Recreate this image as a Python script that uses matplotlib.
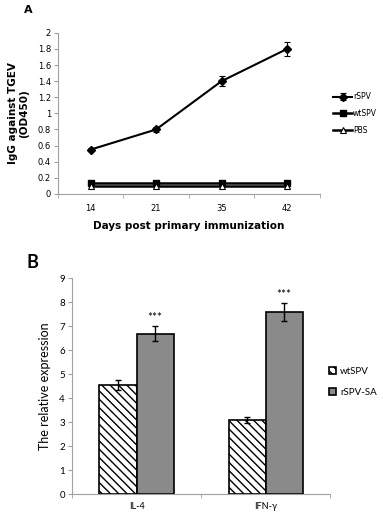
import matplotlib.pyplot as plt
import numpy as np

plt.rcParams['font.family'] = ['Lato', 'DejaVu Sans']
plt.rcParams['hatch.linewidth'] = 1.0

# panel A data
days = ['14', '21', '35', '42']
rspv = [0.55, 0.80, 1.40, 1.80]
rspv_err = [0.02, 0.03, 0.06, 0.09]
wtspv = [0.14, 0.14, 0.14, 0.14]
pbs = [0.10, 0.10, 0.10, 0.10]

# panel B data
genes = ['IL-4', 'IFN-γ']
wt_expr = [4.55, 3.10]
wt_err = [0.22, 0.12]
sa_expr = [6.68, 7.60]
sa_err = [0.32, 0.37]
stars = ['***', '***']

fig = plt.figure(figsize=(3.83, 5.13), dpi=100)
grey = '#a0a0a0'
dv = ['DejaVu Sans']

# ---- panel A ----
ax = fig.add_axes([0.151, 0.622, 0.684, 0.314])
x = np.arange(len(days))
h1 = ax.errorbar(x, rspv, yerr=rspv_err, color='black', lw=1.5, marker='D', ms=4,
                 capsize=2, elinewidth=0.8, capthick=0.8, label='rSPV')
h2, = ax.plot(x, wtspv, color='black', lw=1.8, marker='s', ms=5, label='wtSPV')
h3, = ax.plot(x, pbs, color='black', lw=1.8, marker='^', ms=5, mfc='white',
              mew=0.8, label='PBS')
ax.set_xlim(-0.5, 3.5)
ax.set_ylim(0, 2)
ax.set_yticks(np.arange(0, 2.01, 0.2))
ax.set_yticklabels(['0'] + ['%g' % v for v in np.arange(0.2, 2.01, 0.2)], family=dv)
ax.set_xticks(x)
ax.set_xticklabels(days, family=dv)
ax.set_xticks(np.arange(-0.5, 3.6, 1), minor=True)
ax.tick_params(axis='x', which='major', length=0, labelsize=6, pad=7)
ax.tick_params(axis='x', which='minor', length=3, color=grey)
ax.tick_params(axis='y', length=3, color=grey, labelsize=6, pad=2)
for s in ['top', 'right']:
    ax.spines[s].set_visible(False)
for s in ['left', 'bottom']:
    ax.spines[s].set_color(grey)
    ax.spines[s].set_linewidth(0.8)
ax.set_xlabel('Days post primary immunization', fontsize=7.5, fontweight='bold',
              labelpad=6, family=dv)
ax.set_ylabel('IgG against TGEV\n(OD450)', fontsize=7.5, fontweight='bold',
              labelpad=6, family=dv)
ax.legend([h1, h2, h3], ['rSPV', 'wtSPV', 'PBS'], loc='center left',
          bbox_to_anchor=(1.03, 0.5), frameon=False, prop={'family': dv, 'size': 5.5},
          handlelength=2.5, handletextpad=0.1, labelspacing=1.0, borderaxespad=0.3)
fig.text(0.063, 0.99, 'A', fontsize=8, fontweight='bold', va='top', family=dv)

# ---- panel B ----
bx = fig.add_axes([0.188, 0.037, 0.674, 0.421])
xb = np.arange(len(genes))
w = 0.287
bx.bar(xb - w / 2, wt_expr, w, yerr=wt_err, color='white', edgecolor='black',
       hatch='\\\\\\\\', lw=1.2, capsize=2.5, error_kw=dict(elinewidth=1, capthick=1),
       label='wtSPV')
bx.bar(xb + w / 2, sa_expr, w, yerr=sa_err, color='#8a8a8a', edgecolor='black',
       lw=1.2, capsize=2.5, error_kw=dict(elinewidth=1, capthick=1),
       label='rSPV-SA')
for xi, v, e, s in zip(xb, sa_expr, sa_err, stars):
    bx.text(xi + w / 2, v + e + 0.12, s, ha='center', va='bottom', fontsize=8.5)
bx.set_xlim(-0.5, 1.5)
bx.set_ylim(0, 9)
bx.set_yticks(range(10))
bx.set_xticks(xb)
bx.set_xticklabels(genes)
bx.set_xticks([-0.5, 0.5, 1.5], minor=True)
bx.tick_params(axis='x', which='major', length=0, labelsize=6.5, pad=6)
bx.tick_params(axis='x', which='minor', length=3, color=grey)
bx.tick_params(axis='y', length=3, color=grey, labelsize=7, pad=2)
for s in ['top', 'right']:
    bx.spines[s].set_visible(False)
for s in ['left', 'bottom']:
    bx.spines[s].set_color(grey)
    bx.spines[s].set_linewidth(0.8)
bx.set_ylabel('The relative expression', fontsize=9, labelpad=6)
bx.legend(loc='center left', bbox_to_anchor=(0.96, 0.52), frameon=False, fontsize=7,
          handlelength=0.8, handleheight=0.8, handletextpad=0.4, labelspacing=1.2)
fig.text(0.07, 0.505, 'B', fontsize=13, fontweight='bold', va='top')

fig.savefig('out.png', dpi=100)
